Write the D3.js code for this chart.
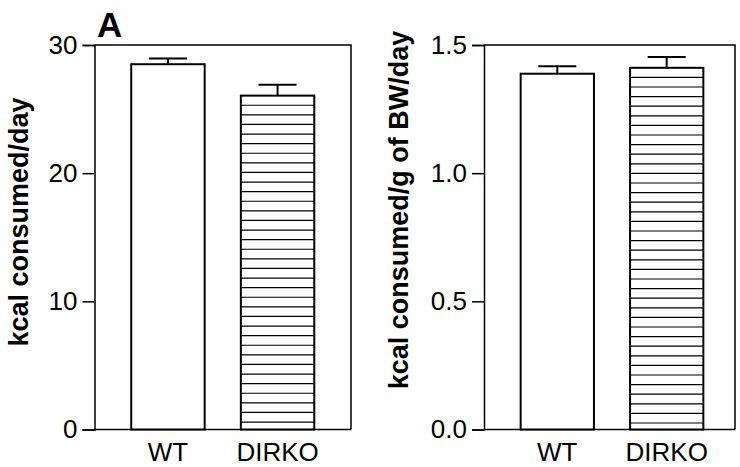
<!DOCTYPE html>
<html>
<head>
<meta charset="utf-8">
<script src="https://cdn.jsdelivr.net/npm/d3@7"></script>
<style>
	body { margin: 0; background: #fff; }
	text { font-family: Arial, "Liberation Sans", sans-serif; fill: #000; }
</style>
</head>
<body>
<div id="chart"></div>
<script>

var groups = ['WT', 'DIRKO'];

var kcalDay = [28.5, 26.05];
var kcalDaySem = [0.45, 0.85];
var kcalDayTicks = [0, 10, 20, 30];

var kcalPerBw = [1.388, 1.411];
var kcalPerBwSem = [0.029, 0.042];
var kcalPerBwTicks = [0.0, 0.5, 1.0, 1.5];

var w = 740;
var h = 467;

var svg = d3.select('#chart')
	.append('svg')
	.attr('width', w)
	.attr('height', h);

function panel(opts){

	var y = d3.scaleLinear()
		.domain(opts.domain)
		.range([429.5, 45]);

	var x = d3.scaleBand()
		.domain(groups)
		.range([opts.left, opts.bandRight])
		.paddingInner(0.33)
		.paddingOuter(0.335);

	var g = svg.append('g');

	// frame top + right
	g.append('path')
		.attr('d', 'M' + opts.left + ',' + y(opts.domain[1]) + 'H' + opts.right + 'V' + y(0))
		.attr('fill', 'none')
		.attr('stroke', '#000')
		.attr('stroke-width', 1.5);

	// x axis line
	g.append('line')
		.attr('x1', opts.left).attr('x2', opts.right)
		.attr('y1', y(0)).attr('y2', y(0))
		.attr('stroke', '#000')
		.attr('stroke-width', 1.5);

	var yAxis = d3.axisLeft(y)
		.tickValues(opts.ticks)
		.tickSize(12)
		.tickPadding(5)
		.tickFormat(opts.fmt);

	var ax = g.append('g')
		.attr('transform', 'translate(' + opts.left + ',0)')
		.call(yAxis);
	ax.attr('font-size', 26).attr('font-family', 'Arial, "Liberation Sans", sans-serif');
	ax.select('.domain').attr('stroke-width', 1.5);
	ax.selectAll('.tick line').attr('stroke-width', 1.5);
	ax.selectAll('.tick text').attr('fill', '#000');

	var data = groups.map(function(d, i){
		return {name: d, val: opts.values[i], sem: opts.sem[i], hatch: i == 1};
	});

	// bars
	g.selectAll('rect.bar')
		.data(data)
		.enter()
		.append('rect')
		.attr('class', 'bar')
		.attr('x', function(d){ return x(d.name); })
		.attr('y', function(d){ return y(d.val); })
		.attr('width', x.bandwidth())
		.attr('height', function(d){ return y(0) - y(d.val); })
		.attr('fill', '#fff');

	// horizontal hatching on DIRKO
	data.filter(function(d){ return d.hatch; }).forEach(function(d){
		var top = y(d.val);
		var lines = d3.range(top + 9.6, y(0) - 2, 9.6);
		g.selectAll(null)
			.data(lines)
			.enter()
			.append('line')
			.attr('x1', x(d.name))
			.attr('x2', x(d.name) + x.bandwidth())
			.attr('y1', function(v){ return v; })
			.attr('y2', function(v){ return v; })
			.attr('stroke', '#000')
			.attr('stroke-width', 1.2);
	});

	g.selectAll('rect.outline')
		.data(data)
		.enter()
		.append('rect')
		.attr('x', function(d){ return x(d.name); })
		.attr('y', function(d){ return y(d.val); })
		.attr('width', x.bandwidth())
		.attr('height', function(d){ return y(0) - y(d.val); })
		.attr('fill', 'none')
		.attr('stroke', '#000')
		.attr('stroke-width', 2);

	// error bars
	var cap = 19;
	data.forEach(function(d){
		var cx = x(d.name) + x.bandwidth() / 2;
		g.append('line')
			.attr('x1', cx).attr('x2', cx)
			.attr('y1', y(d.val)).attr('y2', y(d.val + d.sem))
			.attr('stroke', '#000').attr('stroke-width', 2);
		g.append('line')
			.attr('x1', cx - cap).attr('x2', cx + cap)
			.attr('y1', y(d.val + d.sem)).attr('y2', y(d.val + d.sem))
			.attr('stroke', '#000').attr('stroke-width', 2);
	});

	// x labels
	g.selectAll('text.xl')
		.data(data)
		.enter()
		.append('text')
		.attr('class', 'xl')
		.attr('x', function(d){ return x(d.name) + x.bandwidth() / 2; })
		.attr('y', 461)
		.attr('text-anchor', 'middle')
		.attr('font-size', 26)
		.text(function(d){ return d.name; });

	// y label
	g.append('text')
		.attr('transform', 'translate(' + opts.labelX + ',' + opts.labelY + ') rotate(-90)')
		.attr('text-anchor', 'middle')
		.attr('font-size', 27)
		.attr('font-weight', 'bold')
		.text(opts.label);
}

panel({
	left: 94.5, right: 351, bandRight: 351,
	domain: [0, 30], ticks: kcalDayTicks, fmt: d3.format('d'),
	values: kcalDay, sem: kcalDaySem,
	label: 'kcal consumed/day', labelX: 28, labelY: 222
});

panel({
	left: 484, right: 735, bandRight: 740,
	domain: [0, 1.5], ticks: kcalPerBwTicks, fmt: d3.format('.1f'),
	values: kcalPerBw, sem: kcalPerBwSem,
	label: 'kcal consumed/g of BW/day', labelX: 408, labelY: 210
});

svg.append('text')
	.attr('x', 97)
	.attr('y', 37)
	.attr('font-size', 35)
	.attr('font-weight', 'bold')
	.text('A');

</script>
</body>
</html>
